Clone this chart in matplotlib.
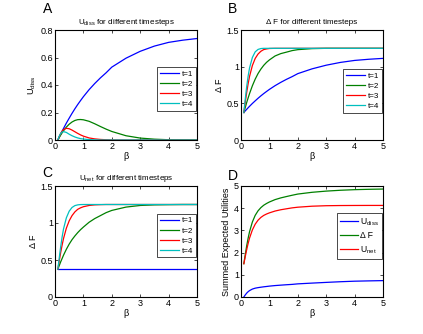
import matplotlib
matplotlib.use("Agg")
import matplotlib.pyplot as plt

plt.rcParams['font.family'] = ['Liberation Sans', 'DejaVu Sans']
plt.rcParams['mathtext.default'] = 'regular'

beta = [0.1, 0.15, 0.2, 0.25, 0.3, 0.4, 0.5, 0.6, 0.7, 0.8, 0.9, 1.0,
        1.2, 1.4, 1.6, 1.8, 2.0, 2.5, 3.0, 3.5, 4.0, 4.5, 5.0]

# Panel A: U_diss per timestep
udiss_t1 = [0, 0.022, 0.043, 0.064, 0.084, 0.123, 0.159, 0.194, 0.227, 0.258, 0.287, 0.315,
            0.366, 0.411, 0.452, 0.489, 0.53, 0.595, 0.645, 0.683, 0.71, 0.726, 0.738]
udiss_t2 = [0, 0.018, 0.036, 0.052, 0.067, 0.094, 0.115, 0.131, 0.142, 0.148, 0.149, 0.147,
            0.136, 0.118, 0.098, 0.079, 0.062, 0.031, 0.014, 0.006, 0.002, 0.001, 0.0]
udiss_t3 = [0, 0.025, 0.047, 0.064, 0.076, 0.085, 0.082, 0.072, 0.06, 0.048, 0.037, 0.028,
            0.015, 0.008, 0.004, 0.002, 0.001, 0, 0, 0, 0, 0, 0]
udiss_t4 = [0, 0.028, 0.048, 0.058, 0.061, 0.055, 0.042, 0.031, 0.022, 0.015, 0.01, 0.007,
            0.003, 0.001, 0, 0, 0, 0, 0, 0, 0, 0, 0]

# Panel B: Delta F per timestep
df_t1 = [0.375, 0.397, 0.418, 0.439, 0.459, 0.498, 0.534, 0.569, 0.602, 0.633, 0.662, 0.69,
         0.741, 0.786, 0.827, 0.864, 0.905, 0.97, 1.02, 1.058, 1.085, 1.101, 1.113]
df_t2 = [0.375, 0.443, 0.511, 0.572, 0.632, 0.739, 0.83, 0.906, 0.967, 1.018, 1.059, 1.092,
         1.146, 1.178, 1.198, 1.219, 1.232, 1.246, 1.25, 1.25, 1.25, 1.25, 1.25]
df_t3 = [0.375, 0.515, 0.647, 0.764, 0.866, 1.015, 1.112, 1.172, 1.21, 1.233, 1.242, 1.248,
         1.25, 1.25, 1.25, 1.25, 1.25, 1.25, 1.25, 1.25, 1.25, 1.25, 1.25]
df_t4 = [0.375, 0.558, 0.728, 0.868, 0.981, 1.125, 1.202, 1.235, 1.247, 1.25, 1.25, 1.25,
         1.25, 1.25, 1.25, 1.25, 1.25, 1.25, 1.25, 1.25, 1.25, 1.25, 1.25]

# Panel C: U_net per timestep
unet_t1 = [0.375] * 23
unet_t2 = [0.375, 0.425, 0.475, 0.52, 0.565, 0.645, 0.715, 0.775, 0.825, 0.87, 0.91, 0.945,
           1.01, 1.06, 1.1, 1.14, 1.17, 1.215, 1.237, 1.245, 1.248, 1.25, 1.25]
unet_t3 = [0.375, 0.49, 0.6, 0.7, 0.79, 0.93, 1.03, 1.1, 1.15, 1.185, 1.205, 1.22,
           1.237, 1.245, 1.248, 1.25, 1.25, 1.25, 1.25, 1.25, 1.25, 1.25, 1.25]
unet_t4 = [0.375, 0.53, 0.68, 0.81, 0.92, 1.07, 1.16, 1.21, 1.235, 1.245, 1.249, 1.25,
           1.25, 1.25, 1.25, 1.25, 1.25, 1.25, 1.25, 1.25, 1.25, 1.25, 1.25]

# Panel D: summed expected utilities
sum_udiss = [0, 0.093, 0.174, 0.238, 0.288, 0.357, 0.398, 0.422, 0.441, 0.459, 0.474, 0.49,
             0.515, 0.534, 0.552, 0.568, 0.592, 0.626, 0.658, 0.688, 0.712, 0.726, 0.738]
sum_df = [1.5, 1.913, 2.304, 2.643, 2.938, 3.377, 3.678, 3.882, 4.026, 4.134, 4.213, 4.28,
          4.387, 4.464, 4.525, 4.583, 4.637, 4.716, 4.77, 4.808, 4.835, 4.851, 4.863]
sum_unet = [1.5, 1.82, 2.13, 2.405, 2.65, 3.02, 3.28, 3.46, 3.585, 3.675, 3.739, 3.79,
            3.872, 3.93, 3.973, 4.015, 4.045, 4.09, 4.112, 4.12, 4.123, 4.125, 4.125]

t_labels = ['t=1', 't=2', 't=3', 't=4']
colors = ['#0000ff', '#008000', '#ff0000', '#00bfbf']

W, H = 423, 334
fig = plt.figure(figsize=(W / 100, H / 100), dpi=100)

def box(x0, y0, x1, y1):
    return [x0 / W, 1 - y1 / H, (x1 - x0) / W, (y1 - y0) / H]

axA = fig.add_axes(box(55, 30, 197, 140))
axB = fig.add_axes(box(241, 30, 383, 140))
axC = fig.add_axes(box(55, 186, 197, 297))
axD = fig.add_axes(box(241, 186, 383, 297))

FS = 6.5
TFS = 5.8
LW = 0.9

def style(ax, yticks, yticklabels, ylim):
    ax.set_xlim(0, 5)
    ax.set_ylim(*ylim)
    ax.set_xticks([0, 1, 2, 3, 4, 5])
    ax.set_yticks(yticks)
    ax.set_yticklabels(yticklabels)
    ax.tick_params(direction='in', top=True, right=True, length=2.5, width=0.5,
                   labelsize=FS, pad=1.5)
    for s in ax.spines.values():
        s.set_linewidth(0.8)
    ax.set_xlabel('β', fontsize=FS, labelpad=1)

def leg(ax, labels, ycen, fs=5.8, spacing=0.3, hl=2.4):
    l = ax.legend(labels, loc='center right', bbox_to_anchor=(0.993, ycen),
                  fontsize=fs, frameon=True, fancybox=False, framealpha=1,
                  edgecolor='black', handlelength=hl, handletextpad=0.3,
                  labelspacing=spacing, borderpad=0.35, borderaxespad=0)
    l.get_frame().set_linewidth(0.5)

for ys, c in zip([udiss_t1, udiss_t2, udiss_t3, udiss_t4], colors):
    axA.plot(beta, ys, color=c, lw=LW)
style(axA, [0, 0.2, 0.4, 0.6, 0.8], ['0', '0.2', '0.4', '0.6', '0.8'], (0, 0.8))
axA.set_ylabel('U$_{diss}$', fontsize=FS, labelpad=2)
axA.set_title('U$_{diss}$ for different timesteps', fontsize=TFS, pad=4)
leg(axA, t_labels, 0.464)

for ys, c in zip([df_t1, df_t2, df_t3, df_t4], colors):
    axB.plot(beta, ys, color=c, lw=LW)
style(axB, [0, 0.5, 1, 1.5], ['0', '0.5', '1', '1.5'], (0, 1.5))
axB.set_ylabel('Δ F', fontsize=FS, labelpad=2)
axB.set_title('Δ F for different timesteps', fontsize=TFS, pad=4)
leg(axB, t_labels, 0.445)

for ys, c in zip([unet_t1, unet_t2, unet_t3, unet_t4], colors):
    axC.plot(beta, ys, color=c, lw=LW)
style(axC, [0, 0.5, 1, 1.5], ['0', '0.5', '1', '1.5'], (0, 1.5))
axC.set_ylabel('Δ F', fontsize=FS, labelpad=2)
axC.set_title('U$_{net}$ for different timesteps', fontsize=TFS, pad=4)
leg(axC, t_labels, 0.552)

for ys, c in zip([sum_udiss, sum_df, sum_unet], colors[:3]):
    axD.plot(beta, ys, color=c, lw=LW)
style(axD, [0, 1, 2, 3, 4, 5], ['0', '1', '2', '3', '4', '5'], (0, 5))
axD.set_ylabel('Summed Expected Utilities', fontsize=FS, labelpad=2)
leg(axD, ['U$_{diss}$', 'Δ F', 'U$_{net}$'], 0.55, fs=6.2, spacing=0.45, hl=2.0)

for lab, x, y in [('A', 43, 13), ('B', 228, 13), ('C', 42, 177), ('D', 228, 180)]:
    fig.text(x / W, 1 - y / H, lab, fontsize=10, ha='left', va='baseline')

fig.savefig('out.png', dpi=100, facecolor='white')
